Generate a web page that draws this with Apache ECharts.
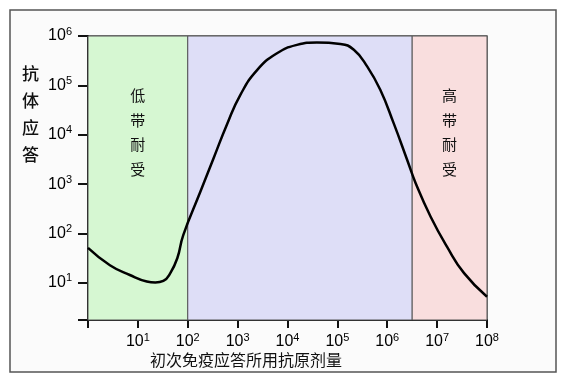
<!DOCTYPE html>
<html>
<head>
<meta charset="utf-8">
<script src="https://cdn.jsdelivr.net/npm/echarts@6/dist/echarts.min.js"></script>
<style>html,body{margin:0;padding:0;background:#fff}#c{width:561px;height:385px}</style>
</head>
<body>
<div id="c"></div>
<script>
// antigen dose (x) and antibody response (y)
var dose = [1, 2.75, 6.9, 15.1, 22.4, 32.4, 44.7, 61.7, 81.3, 178, 331, 617, 1122, 2455, 6166, 15488, 38905, 114815, 213796, 398107, 724436, 1348963, 2511886, 3715352, 7413102, 15848932, 34673685, 100000000];
var response = [51.3, 22.9, 14.5, 10.7, 10.2, 11.0, 15.8, 31.6, 93.3, 692, 3388, 16596, 63096, 204174, 446684, 660693, 741310, 691831, 524807, 239883, 81283, 16982, 3090, 1047, 219, 53.7, 15.8, 5.25];
// zones
var zoneNames = ['低带耐受', '', '高带耐受'];
var zoneStart = [1, 100, 3162278];
var zoneEnd = [100, 3162278, 100000000];
var zoneColors = ['#d6f7d2', '#dedef7', '#f9dede'];
var xTitle = '初次免疫应答所用抗原剂量';
var yTitle = '抗体应答';

var latin = 'Arial, "Liberation Sans", sans-serif';
var cjk = '"Noto Sans CJK SC", sans-serif';

function expLabel(v, hideBelow) {
  var e = Math.log10(v);
  var r = Math.round(e);
  if (Math.abs(e - r) > 0.01) return '';
  if (r < hideBelow) return '';
  return '{base|10}{sup|' + r + '}';
}
var rich = {
  base: {fontSize: 16, fontFamily: latin, color: '#000', lineHeight: 20},
  sup: {fontSize: 11, fontFamily: latin, color: '#000', lineHeight: 20, padding: [0, 0, 9, 0]}
};

var data = dose.map(function (d, i) { return [d, response[i]]; });
var areas = zoneStart.map(function (s, i) {
  return [{
    xAxis: s,
    itemStyle: {color: zoneColors[i], borderColor: '#555', borderWidth: 1},
    label: {
      show: zoneNames[i] !== '',
      formatter: zoneNames[i].split('').join('\n'),
      position: 'insideTop',
      distance: 48,
      fontFamily: cjk,
      fontSize: 15,
      lineHeight: 24.5,
      color: '#111'
    }
  }, {xAxis: zoneEnd[i]}];
});

var chart = echarts.init(document.getElementById('c'), null, {renderer: 'canvas'});
chart.setOption({
  backgroundColor: '#fff',
  animation: false,
  graphic: [
    {type: 'rect', z: -100, shape: {x: 10, y: 10, width: 546, height: 362},
      style: {fill: '#fbfbfb', stroke: '#555', lineWidth: 1.5}},
    {type: 'text', left: 22, top: 60, z: 100,
      style: {text: yTitle.split('').join('\n'), fontFamily: cjk, fontSize: 17, lineHeight: 27, fill: '#111', fontWeight: 500}},
    {type: 'text', left: 150, top: 352, z: 100,
      style: {text: xTitle, fontFamily: cjk, fontSize: 16, fill: '#111'}}
  ],
  grid: {left: 88, right: 74, top: 36, bottom: 65, show: true, borderColor: '#555', borderWidth: 1.5, backgroundColor: 'transparent'},
  xAxis: {
    type: 'log', logBase: 10, min: 1, max: 100000000, splitNumber: 8,
    axisLine: {lineStyle: {color: '#111', width: 2}},
    axisTick: {show: true, length: 8, lineStyle: {color: '#111', width: 2}},
    axisLabel: {margin: 12, fontSize: 16, fontFamily: latin, color: '#000', formatter: function (v) { return expLabel(v, 1); }, rich: rich},
    splitLine: {show: false}
  },
  yAxis: {
    type: 'log', logBase: 10, min: Math.pow(10, 0.25), max: 1000000, splitNumber: 6,
    axisLine: {lineStyle: {color: '#111', width: 2}},
    axisTick: {show: true, length: 10, lineStyle: {color: '#111', width: 2}},
    axisLabel: {margin: 16, fontSize: 16, fontFamily: latin, color: '#000', formatter: function (v) { return expLabel(v, 1); }, rich: rich},
    splitLine: {show: false}
  },
  series: [{
    type: 'line',
    data: data,
    smooth: 0.5,
    showSymbol: false,
    lineStyle: {color: '#000', width: 2.5},
    markArea: {silent: true, data: areas}
  }]
});
</script>
</body>
</html>
